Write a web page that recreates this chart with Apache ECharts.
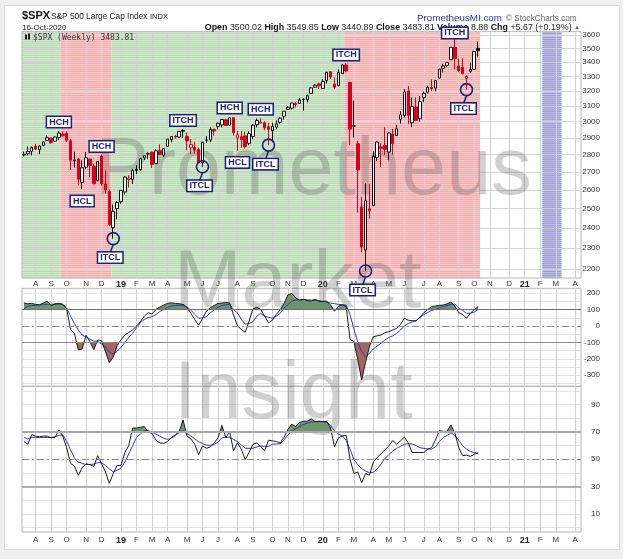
<!DOCTYPE html>
<html><head><meta charset="utf-8">
<script src="https://cdn.jsdelivr.net/npm/echarts@6.0.0/dist/echarts.min.js"></script>
<style>
html,body{margin:0;padding:0;background:#efefef;}
#card{position:absolute;left:4px;top:5px;width:614px;height:543px;background:#fff;border:1px solid #dcdcdc;}
#chart{position:absolute;left:0;top:0;width:623px;height:559px;}
</style></head><body>
<div id="card"></div><div id="chart"></div>
<script>
// ---------- data ----------
const firstWeek = '2018-07-20';   // week-ending Friday of first candle
const weekCount = 144;            // weeks on the axis (through 2021-04-16)

const opens = [2797.4,2804.6,2819.0,2849.0,2827.9,2853.9,2884.7,2898.4,2880.0,2903.0,
2921.8,2926.3,2882.5,2763.8,2773.9,2640.7,2726.4,2773.9,2730.1,2649.9,
2790.5,2630.9,2590.8,2400.6,2498.9,2535.6,2588.1,2657.4,2657.9,2713.9,
2712.4,2780.2,2804.4,2814.4,2747.6,2822.6,2796.0,2848.6,2888.3,2909.9,
2904.8,2940.6,2908.9,2840.2,2841.9,2830.0,2751.5,2885.8,2886.8,2952.7,
2971.4,2979.8,3012.1,2977.7,3026.0,2898.1,2907.1,2911.1,2866.7,2909.0,
2980.8,2996.4,2994.0,2968.4,2944.2,2965.8,2996.5,3035.4,3078.9,3087.0,
3117.4,3117.4,3143.9,3141.9,3183.6,3226.0,3247.2,3217.6,3271.1,3333.1,
3247.2,3235.7,3318.3,3380.4,3257.6,2974.3,2863.9,2508.6,2290.7,2498.1,
2514.9,2782.5,2845.6,2854.7,2815.0,2923.0,2913.9,3015.6,3038.8,3199.9,
2993.8,3094.4,3018.6,3155.3,3191.8,3224.3,3219.8,3288.3,3356.0,3377.0,
3418.1,3507.4,3371.9,3363.6,3285.6,3333.9,3349.0,3500.0];
const highs = [2816.9,2848.0,2848.1,2863.4,2855.6,2876.2,2916.5,2900.2,2908.3,2940.9,
2939.9,2939.9,2894.8,2816.9,2778.9,2766.3,2815.2,2775.0,2746.8,2760.9,
2800.2,2708.5,2601.1,2520.3,2538.1,2597.8,2675.5,2681.8,2716.7,2738.0,
2775.7,2794.2,2813.5,2816.9,2830.7,2860.3,2836.0,2893.4,2910.5,2918.0,
2940.0,2954.1,2931.7,2892.2,2875.9,2840.5,2876.0,2910.6,2964.2,2955.9,
2996.0,3017.8,3018.4,3027.9,3029.2,2943.3,2943.3,2939.1,2940.4,2985.9,
3020.7,3022.0,3002.4,2993.3,2993.3,3008.3,3027.4,3066.9,3097.8,3120.5,
3127.6,3154.3,3150.6,3176.3,3225.6,3247.9,3258.1,3282.0,3329.9,3337.8,
3293.0,3348.0,3385.1,3393.5,3259.8,3136.7,2882.6,2562.0,2637.0,2631.8,
2818.6,2879.2,2869.1,2965.0,2934.0,2954.9,2980.3,3068.7,3211.7,3233.1,
3155.5,3155.5,3165.8,3197.5,3235.3,3279.3,3272.2,3352.5,3387.9,3399.5,
3509.4,3588.1,3425.6,3428.9,3306.9,3397.2,3482.3,3549.9];
const lows = [2789.2,2795.1,2795.1,2825.6,2802.5,2848.0,2884.7,2864.1,2874.7,2886.2,
2903.3,2874.0,2710.5,2724.5,2628.2,2603.5,2714.9,2670.8,2631.1,2649.9,
2621.5,2583.2,2409.0,2346.6,2443.9,2524.6,2574.1,2612.7,2631.6,2687.3,
2703.8,2767.1,2775.1,2722.3,2746.1,2800.3,2785.7,2848.6,2873.3,2895.4,
2898.2,2898.2,2825.4,2801.4,2805.5,2750.5,2728.8,2868.6,2873.8,2912.9,
2952.9,2963.2,2975.1,2975.5,2914.1,2822.1,2840.6,2834.4,2856.0,2891.9,
2964.1,2990.5,2946.0,2855.9,2873.8,2952.9,2987.3,3013.6,3074.0,3078.3,
3091.4,3113.6,3070.3,3124.3,3183.5,3222.3,3213.4,3214.6,3251.0,3281.5,
3214.7,3235.7,3317.8,3328.5,2855.8,2901.5,2478.9,2280.5,2191.9,2447.5,
2514.9,2761.0,2727.1,2797.9,2766.6,2797.9,2913.9,2987.8,3025.8,2984.5,
2965.7,3003.9,2999.7,3127.7,3183.9,3200.8,3198.6,3284.5,3327.0,3363.6,
3418.1,3349.6,3329.3,3313.1,3209.5,3323.7,3347.2,3440.9];
const closes = [2801.8,2818.8,2840.4,2833.3,2850.1,2874.7,2901.5,2871.7,2905.0,2929.7,
2914.0,2885.6,2767.1,2767.8,2658.7,2723.1,2781.0,2736.3,2632.6,2760.2,
2633.1,2600.0,2416.6,2485.7,2531.9,2596.3,2670.7,2664.8,2706.5,2707.9,
2775.6,2792.7,2803.7,2743.1,2822.5,2800.7,2834.4,2892.7,2907.4,2905.0,
2939.9,2945.6,2881.4,2859.5,2826.1,2752.1,2873.3,2887.0,2950.5,2941.8,
2990.4,3013.8,2976.6,3025.9,2932.0,2918.7,2888.7,2847.1,2926.5,2978.7,
3007.4,2992.1,2961.8,2952.0,2970.3,2986.2,3022.6,3066.9,3093.1,3120.5,
3110.3,3141.0,3145.9,3168.8,3221.2,3240.0,3234.9,3265.4,3329.6,3295.5,
3225.5,3327.7,3380.2,3337.8,2954.2,2972.4,2711.0,2304.9,2541.5,2488.7,
2789.8,2874.6,2836.7,2830.7,2929.8,2863.7,2955.5,3044.3,3193.9,3041.3,
3097.7,3009.1,3130.0,3185.0,3224.7,3215.6,3271.1,3351.3,3372.9,3397.2,
3508.0,3427.0,3341.0,3319.5,3298.5,3348.4,3477.1,3483.8];

const cci = [140,135,138,132,130,140,152,125,135,138,
132,105,-20,-45,-146,-140,-57,-95,-145,-85,
-89,-156,-223,-190,-120,-85,-55,-40,-24,0,
26,60,81,73,101,115,128,138,142,138,
136,132,114,77,40,5,45,90,112,125,
138,140,144,140,67,0,-20,-39,30,105,
114,101,60,20,35,70,97,138,190,199,
172,158,162,155,152,164,150,150,152,128,
90,120,130,120,-81,-95,-207,-329,-223,-126,
-65,-60,-55,-41,-35,-25,-14,10,47,35,
32,32,53,81,100,118,122,126,128,135,
146,122,81,71,47,77,101,118];
const cciSignal = [105,120,124,126,128,130,132,133,134,134,
133,110,60,15,-24,-55,-68,-80,-92,-95,
-110,-130,-160,-171,-155,-130,-101,-70,-45,-10,
20,40,52,57,70,88,100,115,122,125,
126,126,115,97,72,47,50,57,80,98,
115,125,130,132,100,80,40,12,15,26,
60,77,60,53,47,60,77,110,130,152,
158,160,162,160,158,156,155,150,145,140,
136,132,130,128,70,-20,-100,-156,-191,-166,
-140,-122,-105,-85,-70,-60,-45,-25,0,15,
25,32,50,70,82,95,101,112,120,125,
132,134,110,95,77,78,85,101];
const rsi = [63,61,68,67,66.5,67,67,65.7,66,71.4,
67,58.6,47,45,38.3,43.8,46.7,46,44.8,52.6,
46.7,40.7,32.4,39.5,45.5,45.5,55,60,72.9,72.9,
73.5,74,70,69,64,62,61.7,63,66,68,
70.5,78.8,67,65,61,53.3,59.8,58.1,59,62,
65.7,74.8,66,70,56.2,62.1,57.4,49.8,55,61,
62,59,56.2,64,63.5,63,62,66,72,75.7,
74,77,77.8,78,79.5,77.6,78,77.6,77.6,72.9,
59,65.7,67,67.6,50.2,39.5,40.7,32.9,39.5,38.3,
47.9,51.4,54,57,59.8,63.8,61,63.5,66.2,62.1,
55,55,55,55,57.4,58.5,64,71,70.5,70.5,
75.2,69.3,58.6,52.6,53.1,52.1,53.8,54.5];
const rsiSignal = [66,65,66,66,66,66,66,66,66.5,67.5,
68,63.3,57,51,47.9,47,46.2,46.2,46.5,47.5,
47.5,45.5,43,40.7,42,43.5,48,54,60,66,
68.5,71,71,70,68.5,67,65.5,64.5,65.5,67.5,
69.5,71,69,67,65,62.9,61.5,60.4,60.2,61,
62.5,65.7,66,66.2,64.5,63,60.5,58.1,58,58.1,
59,59.8,59.3,59.5,61,61.2,61.4,64,68,70.5,
72.5,74,75.5,76.5,77.2,77.6,77.6,77.6,77.6,74.5,
71,68.5,67.2,64,57.4,50,46,43.1,41.5,40.2,
40.5,43,46.5,50.5,53.5,56,58,59.5,61,61.4,
61.2,60,58.5,58,57.6,57.4,59,63,66,67.5,
69.3,67.5,64,60,57.5,55.7,55,54.5];

const priceTicks = [2200,2300,2400,2500,2600,2700,2800,2900,3000,3100,3200,3300,3400,3500,3600];
const cciTicks = [-300,-200,-100,0,100,200];
const cciGridLevels = [-350,-300,-250,-200,-150,-100,-50,0,50,100,150,200];
const rsiTicks = [10,30,50,70,90];
const rsiGridLevels = [0,10,20,30,40,50,60,70,80,90,100];

const phases = [
  {from:'2018-07-20', to:'2018-09-21', kind:'bull'},
  {from:'2018-09-28', to:'2018-12-21', kind:'bear'},
  {from:'2018-12-28', to:'2020-02-14', kind:'bull'},
  {from:'2020-02-21', to:'2020-10-16', kind:'bear'},
  {from:'2021-02-12', to:'2021-03-12', kind:'window'}
];
const annotations = [
  {date:'2018-09-21', price:2998, text:'HCH'},
  {date:'2018-11-02', price:2539, text:'HCL'},
  {date:'2018-12-07', price:2848, text:'HCH'},
  {date:'2018-12-28', price:2346.6, text:'ITCL', circle:true},
  {date:'2019-05-03', price:3008, text:'ITCH'},
  {date:'2019-06-07', price:2728.8, text:'ITCL', circle:true},
  {date:'2019-07-26', price:3088, text:'HCH'},
  {date:'2019-08-09', price:2754, text:'HCL'},
  {date:'2019-09-20', price:3080, text:'HCH'},
  {date:'2019-10-04', price:2855.9, text:'ITCL', circle:true},
  {date:'2020-02-21', price:3452, text:'ITCH'},
  {date:'2020-03-27', price:2191.9, text:'ITCL', circle:true},
  {date:'2020-09-04', price:3615, text:'ITCH'},
  {date:'2020-09-25', price:3209.5, text:'ITCL', circle:true}
];
const monthLetters = ['J','F','M','A','M','J','J','A','S','O','N','D'];

// ---------- build ----------
const categories = [];
const t0 = Date.parse(firstWeek + 'T00:00:00Z');
for (let k = 0; k < weekCount; k++) categories.push(new Date(t0 + k * 7 * 864e5).toISOString().slice(0, 10));

const FONT = '"Liberation Sans", Arial, sans-serif';
const NAVY = '#1b1f7e';
const UP = '#111111', DOWN = '#d8001c';

const candleData = opens.map((o, i) => {
  const c = closes[i];
  const rising = i === 0 ? c >= o : c >= closes[i - 1];
  const line = rising ? UP : DOWN;
  const fill = c > o ? '#ffffff' : line;
  return {value: [o, c, lows[i], highs[i]],
    itemStyle: {color: fill, color0: fill, borderColor: line, borderColor0: line, borderWidth: 1}};
});

function stripe(c1, c2) {
  const cv = document.createElement('canvas');
  cv.width = 4; cv.height = 2;
  const g = cv.getContext('2d');
  g.fillStyle = c1; g.fillRect(0, 0, 4, 1);
  g.fillStyle = c2; g.fillRect(0, 1, 4, 1);
  return {image: cv, repeat: 'repeat'};
}
const phaseFill = {
  bull: stripe('#d2eace', '#b9dab4'),
  bear: stripe('#fccaca', '#f5a9a9'),
  window: stripe('#bcbee4', '#9c9fd6')
};

function isMonthMark(index, value) {
  const d = +String(value).slice(8, 10);
  return d >= 5 && d <= 11;
}
function monthLabel(value) {
  const m = +value.slice(5, 7) - 1;
  return m === 0 ? '{yr|' + value.slice(2, 4) + '}' : monthLetters[m];
}

function thresholdFill(values, th, above, color) {
  return function (params, api) {
    const pts = values.map((v, i) => api.coord([i, v]));
    const baseY = api.coord([0, th])[1];
    const inside = v => above ? v > th : v < th;
    const cross = (i) => {
      const a = values[i - 1], b = values[i];
      const f = (th - a) / (b - a);
      return [pts[i - 1][0] + f * (pts[i][0] - pts[i - 1][0]), baseY];
    };
    const polys = []; let cur = null;
    for (let i = 0; i < values.length; i++) {
      if (inside(values[i])) {
        if (!cur) { cur = [i > 0 ? cross(i) : [pts[i][0], baseY]]; }
        cur.push(pts[i]);
      } else if (cur) {
        cur.push(cross(i)); polys.push(cur); cur = null;
      }
    }
    if (cur) { cur.push([pts[values.length - 1][0], baseY]); polys.push(cur); }
    return {type: 'group', children: polys.map(p => ({type: 'polygon', shape: {points: p}, style: {fill: color}}))};
  };
}

const grids = [
  {left: 22, right: 42, top: 31.7, height: 246.3},
  {left: 22, right: 42, top: 288.3, height: 98},
  {left: 22, right: 42, top: 386.3, height: 145.7}
].map(g => Object.assign(g, {show: true, borderColor: '#b4b4b4', borderWidth: 1, backgroundColor: 'transparent'}));

function xAxis(gridIndex, showLabels, margin) {
  return {
    type: 'category', gridIndex, data: categories, boundaryGap: true,
    axisLine: {show: false}, axisTick: {show: false},
    splitLine: {show: true, interval: isMonthMark, alignWithLabel: true, lineStyle: {color: '#d2d2d2', width: 1}},
    axisLabel: {show: showLabels, interval: isMonthMark, formatter: monthLabel, margin,
      fontSize: 8, color: '#333', fontFamily: FONT,
      rich: {yr: {fontWeight: 'bold', fontSize: 9, color: '#222', fontFamily: FONT}}}
  };
}
const yLabel = {fontSize: 8, color: '#333', fontFamily: FONT, align: 'right', margin: 19, formatter: v => String(v)};

const refLine = (v, color, width, type) => ({yAxis: v, lineStyle: {color, width, type}});
const DASHDOT = [7, 3, 2, 3];

const option = {
  animation: false,
  grid: grids,
  xAxis: [xAxis(0, true, 2), xAxis(1, false, 2), xAxis(2, true, 4)],
  yAxis: [
    {type: 'log', gridIndex: 0, position: 'right', min: 2160, max: 3625,
      axisLine: {show: false}, axisTick: {show: false, customValues: priceTicks},
      axisLabel: Object.assign({customValues: priceTicks}, yLabel),
      splitLine: {show: true, lineStyle: {color: '#d6d6d6'}}},
    {type: 'value', gridIndex: 1, position: 'right', min: -368, max: 230,
      axisLine: {show: false}, axisTick: {show: false, customValues: cciGridLevels},
      axisLabel: Object.assign({customValues: cciTicks}, yLabel),
      splitLine: {show: true, lineStyle: {color: '#e3e3e3'}}},
    {type: 'value', gridIndex: 2, position: 'right', min: -3.3, max: 103.5,
      axisLine: {show: false}, axisTick: {show: false, customValues: rsiGridLevels},
      axisLabel: Object.assign({customValues: rsiTicks}, yLabel),
      splitLine: {show: true, lineStyle: {color: '#e3e3e3'}}}
  ],
  series: [
    {type: 'custom', xAxisIndex: 0, yAxisIndex: 0, z: -1, silent: true, clip: true,
      data: phases.map(p => [categories.indexOf(p.from), 3000, categories.indexOf(p.to)]),
      encode: {x: 0, y: 1},
      renderItem: (params, api) => {
        const ph = phases[params.dataIndex];
        const cs = params.coordSys;
        const step = api.coord([1, 3000])[0] - api.coord([0, 3000])[0];
        const x0 = api.coord([api.value(0), 3000])[0] - step / 2;
        const x1 = api.coord([api.value(2), 3000])[0] + step / 2;
        return {type: 'rect', shape: {x: x0, y: cs.y, width: x1 - x0, height: cs.height}, style: {fill: phaseFill[ph.kind]}};
      }},
    {type: 'candlestick', xAxisIndex: 0, yAxisIndex: 0, z: 3, barWidth: 3, data: candleData},
    {type: 'custom', xAxisIndex: 0, yAxisIndex: 0, z: 6, silent: true, clip: false,
      data: annotations.map(a => [a.date, a.price]), encode: {x: 0, y: 1},
      renderItem: (params, api) => {
        const a = annotations[params.dataIndex];
        const p = api.coord([api.value(0), api.value(1)]);
        const box = (x, y) => ({type: 'text', x, y, z2: 10, style: {text: a.text, fontSize: 9, fontWeight: 'bold', fontFamily: FONT,
          fill: NAVY, align: 'center', verticalAlign: 'middle', backgroundColor: '#fff', borderColor: NAVY, borderWidth: 1.5, padding: [1, 2, 0, 2]}});
        if (!a.circle) return box(p[0], p[1]);
        const r = 6, lx = p[0] - 3, ly = p[1] + 19;
        return {type: 'group', children: [
          {type: 'line', shape: {x1: p[0], y1: p[1] + r, x2: lx, y2: ly - 5}, style: {stroke: NAVY, lineWidth: 1.5}},
          {type: 'circle', shape: {cx: p[0], cy: p[1], r}, style: {fill: 'none', stroke: NAVY, lineWidth: 1.6}},
          box(lx, ly)
        ]};
      }},
    // CCI panel
    {type: 'custom', xAxisIndex: 1, yAxisIndex: 1, z: 2, silent: true, clip: true, data: [[0, 0]],
      renderItem: thresholdFill(cci, 100, true, '#6b956b')},
    {type: 'custom', xAxisIndex: 1, yAxisIndex: 1, z: 2, silent: true, clip: true, data: [[0, 0]],
      renderItem: thresholdFill(cci, -100, false, '#a3655f')},
    {type: 'line', xAxisIndex: 1, yAxisIndex: 1, z: 3, data: cciSignal, symbol: 'none', silent: true,
      lineStyle: {color: '#3636c0', width: 1}},
    {type: 'line', xAxisIndex: 1, yAxisIndex: 1, z: 4, data: cci, symbol: 'none', silent: true,
      lineStyle: {color: '#1a1a1a', width: 1},
      markLine: {silent: true, symbol: 'none', label: {show: false},
        data: [refLine(100, '#6e6e6e', 1, 'solid'), refLine(-100, '#8a8a8a', 1, 'solid'), refLine(0, '#8a8a8a', 1, DASHDOT)]}},
    // RSI panel
    {type: 'custom', xAxisIndex: 2, yAxisIndex: 2, z: 2, silent: true, clip: true, data: [[0, 50]],
      renderItem: thresholdFill(rsi, 70, true, '#6b956b')},
    {type: 'line', xAxisIndex: 2, yAxisIndex: 2, z: 3, data: rsiSignal, symbol: 'none', silent: true,
      lineStyle: {color: '#3636c0', width: 1}},
    {type: 'line', xAxisIndex: 2, yAxisIndex: 2, z: 4, data: rsi, symbol: 'none', silent: true,
      lineStyle: {color: '#1a1a1a', width: 1},
      markLine: {silent: true, symbol: 'none', label: {show: false},
        data: [refLine(70, '#aaaaaa', 2, 'solid'), refLine(30, '#9a9a9a', 1.5, 'solid'), refLine(50, '#8a8a8a', 1, DASHDOT)]}}
  ],
  graphic: [
    // header
    {type: 'text', x: 22, y: 16, z: 0, style: {text: '$SPX', fontSize: 11, fontWeight: 'bold', fontFamily: FONT, fill: '#111', verticalAlign: 'middle'}},
    {type: 'text', x: 51, y: 16.5, z: 0, style: {text: 'S&P 500 Large Cap Index', fontSize: 8.3, fontFamily: FONT, fill: '#222', verticalAlign: 'middle'}},
    {type: 'text', x: 150, y: 16.5, z: 0, style: {text: 'INDX', fontSize: 7.5, fontFamily: FONT, fill: '#222', verticalAlign: 'middle'}},
    {type: 'text', x: 417, y: 18.5, z: 0, style: {text: 'PrometheusMI.com', fontSize: 9.8, fontFamily: FONT, fill: '#2b3a9c', verticalAlign: 'middle'}},
    {type: 'text', x: 506, y: 18.5, z: 0, style: {text: '\u00A9 StockCharts.com', fontSize: 8.2, fontFamily: FONT, fill: '#666', verticalAlign: 'middle'}},
    {type: 'text', x: 22, y: 27.5, z: 0, style: {text: '16-Oct-2020', fontSize: 8, fontFamily: FONT, fill: '#222', verticalAlign: 'middle'}},
    {type: 'text', x: 580, y: 27.5, z: 0, style: {
      text: '{b|Open} 3500.02 {b|High} 3549.85 {b|Low} 3440.89 {b|Close} 3483.81 {b|Volume} 8.88 {b|Chg} +5.67 (+0.19%) {g|\u25B2}',
      fontSize: 8.9, fontFamily: FONT, fill: '#222', align: 'right', verticalAlign: 'middle',
      rich: {b: {fontWeight: 'bold', fontSize: 8.9, fontFamily: FONT, fill: '#111'}, g: {fontSize: 6, fill: '#2a9a2a'}}}},
    // legend inside price panel
    {type: 'rect', x: 25, y: 34.5, z: 2, shape: {width: 2, height: 5}, style: {fill: '#222'}},
    {type: 'rect', x: 28, y: 33.5, z: 2, shape: {width: 2, height: 6}, style: {fill: '#222'}},
    {type: 'text', x: 33, y: 37.5, z: 2, style: {text: '$SPX (Weekly) 3483.81', fontSize: 8, fontFamily: '"DejaVu Sans Mono", monospace', fill: '#333', verticalAlign: 'middle'}},
    // watermark
    {type: 'text', x: 95, y: 172, z: 1, silent: true, style: {text: 'Prometheus', fontSize: 81, fontFamily: FONT, fill: 'rgba(80,80,80,0.27)', verticalAlign: 'middle'}},
    {type: 'text', x: 174, y: 285, z: 1, silent: true, style: {text: 'Market', fontSize: 81, fontFamily: FONT, fill: 'rgba(80,80,80,0.27)', verticalAlign: 'middle'}},
    {type: 'text', x: 174, y: 396, z: 1, silent: true, style: {text: 'Insight', fontSize: 81, fontFamily: FONT, fill: 'rgba(80,80,80,0.27)', verticalAlign: 'middle'}}
  ]
};

const chart = echarts.init(document.getElementById('chart'), null, {renderer: 'canvas'});
chart.setOption(option);
</script>
</body></html>
